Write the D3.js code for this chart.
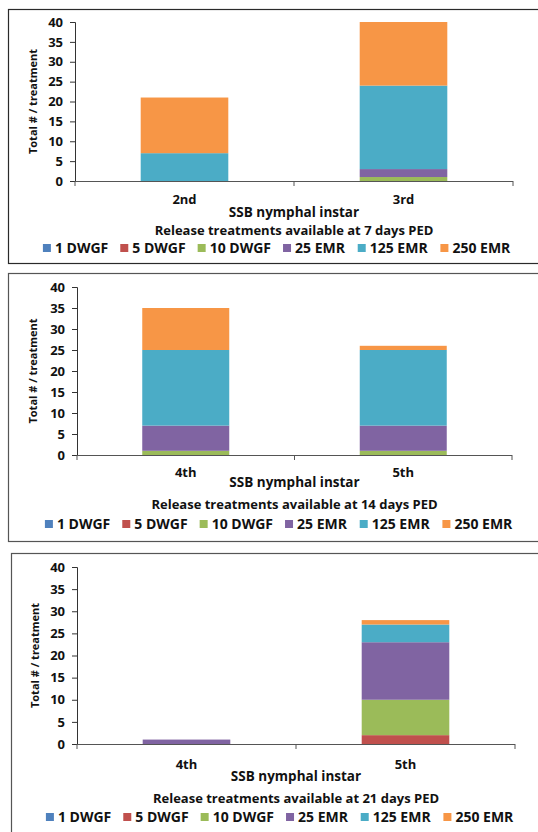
<!doctype html>
<html lang="en">
<head>
<meta charset="UTF-8">
<title>SSB release treatments</title>
<script src="https://d3js.org/d3.v7.min.js"></script>
<style>
  body { margin: 0; background: #fff; }
  text { font-family: "Open Sans", sans-serif; font-weight: bold; fill: #111; }
</style>
</head>
<body>
<div id="chart-area"></div>
<script>
// series (treatments)
const keys = ['1 DWGF', '5 DWGF', '10 DWGF', '25 EMR', '125 EMR', '250 EMR'];
const colors = ['#4F81BD', '#C0504D', '#9BBB59', '#8064A2', '#4BACC6', '#F79646'];
const yTicks = [0, 5, 10, 15, 20, 25, 30, 35, 40];

// 7 days PED
const cats7 = ['2nd', '3rd'];
const vals7 = {
    '1 DWGF':  [0, 0],
    '5 DWGF':  [0, 0],
    '10 DWGF': [0, 1],
    '25 EMR':  [0, 2],
    '125 EMR': [7, 21],
    '250 EMR': [14, 16]
};
// 14 days PED
const cats14 = ['4th', '5th'];
const vals14 = {
    '1 DWGF':  [0, 0],
    '5 DWGF':  [0, 0],
    '10 DWGF': [1, 1],
    '25 EMR':  [6, 6],
    '125 EMR': [18, 18],
    '250 EMR': [10, 1]
};
// 21 days PED
const cats21 = ['4th', '5th'];
const vals21 = {
    '1 DWGF':  [0, 0],
    '5 DWGF':  [0, 2],
    '10 DWGF': [0, 8],
    '25 EMR':  [1, 13],
    '125 EMR': [0, 4],
    '250 EMR': [0, 1]
};
const titles = [
    'Release treatments available at 7 days PED',
    'Release treatments available at 14 days PED',
    'Release treatments available at 21 days PED'
];

const panels = [
    { cats: cats7, vals: vals7, title: titles[0],
      frame: [8, 9, 560, 254], stroke: '#2a2a2a',
      x0: 75, x1: 513, top: 22, bottom: 181,
      tickY: 199, xTitleY: 212, titleY: 230, legendY: 248, legendCx: 277, yLabX: 33 },
    { cats: cats14, vals: vals14, title: titles[1],
      frame: [8, 273, 560, 268], stroke: '#555',
      x0: 77, x1: 512, top: 287, bottom: 455,
      tickY: 472, xTitleY: 482, titleY: 504, legendY: 524, legendCx: 279, yLabX: 33 },
    { cats: cats21, vals: vals21, title: titles[2],
      frame: [11, 553, 560, 300], stroke: '#555',
      x0: 77, x1: 515, top: 567, bottom: 744,
      tickY: 764, xTitleY: 776, titleY: 798, legendY: 817, legendCx: 280, yLabX: 35 }
];

const W = 538, H = 832;
const svg = d3.select('#chart-area')
    .append('svg')
    .attr('width', W)
    .attr('height', H);

const color = d3.scaleOrdinal().domain(keys).range(colors);

panels.forEach(p => {
    const g = svg.append('g');

    g.append('rect')
        .attr('x', p.frame[0] + 0.5)
        .attr('y', p.frame[1] + 0.5)
        .attr('width', p.frame[2])
        .attr('height', p.frame[3])
        .attr('fill', 'none')
        .attr('stroke', p.stroke)
        .attr('stroke-width', 1.2);

    const rows = p.cats.map((c, i) => {
        const r = { cat: c };
        keys.forEach(k => r[k] = p.vals[k][i]);
        return r;
    });
    const stacked = d3.stack().keys(keys)(rows);

    const x = d3.scaleBand()
        .domain(p.cats)
        .range([p.x0, p.x1])
        .paddingInner(0.6)
        .paddingOuter(0.3);

    const y = d3.scaleLinear()
        .domain([0, 40])
        .range([p.bottom, p.top]);

    g.selectAll('g.layer')
        .data(stacked)
        .enter()
        .append('g')
        .attr('fill', d => color(d.key))
        .selectAll('rect')
        .data(d => d)
        .enter()
        .append('rect')
        .attr('x', d => x(d.data.cat))
        .attr('y', d => y(d[1]))
        .attr('width', x.bandwidth())
        .attr('height', d => y(d[0]) - y(d[1]));

    // y axis
    const yAxis = d3.axisLeft(y).tickValues(yTicks).tickSize(5).tickPadding(7);
    const ya = g.append('g')
        .attr('transform', `translate(${p.x0},0)`)
        .call(yAxis);
    ya.selectAll('text').style('font-size', '13px').style('font-family', '"Open Sans", sans-serif').style('font-weight', 'bold').attr('fill', '#111');
    ya.selectAll('line, path').attr('stroke', '#333');

    // x axis line with boundary ticks
    const xb = [p.x0, (p.x0 + p.x1) / 2, p.x1];
    g.append('line')
        .attr('x1', p.x0).attr('x2', p.x1)
        .attr('y1', p.bottom + 0.5).attr('y2', p.bottom + 0.5)
        .attr('stroke', '#555').attr('stroke-width', 1.2);
    g.selectAll('line.xt')
        .data(xb)
        .enter()
        .append('line')
        .attr('class', 'xt')
        .attr('x1', d => d).attr('x2', d => d)
        .attr('y1', p.bottom).attr('y2', p.bottom + 5)
        .attr('stroke', '#555');

    g.selectAll('text.xl')
        .data(p.cats)
        .enter()
        .append('text')
        .attr('class', 'xl')
        .attr('x', d => x(d) + x.bandwidth() / 2)
        .attr('y', p.tickY)
        .attr('dy', '0.35em')
        .attr('text-anchor', 'middle')
        .style('font-size', '13px')
        .text(d => d);

    const cx = (p.x0 + p.x1) / 2;
    g.append('text')
        .attr('x', cx).attr('y', p.xTitleY).attr('dy', '0.35em')
        .attr('text-anchor', 'middle')
        .style('font-size', '13.5px')
        .text('SSB nymphal instar');

    g.append('text')
        .attr('x', cx).attr('y', p.titleY).attr('dy', '0.35em')
        .attr('text-anchor', 'middle')
        .style('font-size', '13px')
        .text(p.title);

    g.append('text')
        .attr('transform', `translate(${p.yLabX},${(p.top + p.bottom) / 2}) rotate(-90)`)
        .attr('dy', '0.35em')
        .attr('text-anchor', 'middle')
        .style('font-size', '11px')
        .text('Total # / treatment');

    // legend
    const lg = g.append('g');
    const items = lg.selectAll('g')
        .data(keys)
        .enter()
        .append('g');
    items.append('rect')
        .attr('width', 8).attr('height', 8)
        .attr('y', -4)
        .attr('fill', d => color(d));
    items.append('text')
        .attr('x', 12)
        .attr('dy', '0.35em')
        .style('font-size', '14px')
        .text(d => d);
    let off = 0;
    const widths = [];
    items.each(function () { widths.push(this.getBBox().width); });
    const gap = 12;
    const total = d3.sum(widths) + gap * (widths.length - 1);
    const startX = p.legendCx - total / 2;
    items.attr('transform', (d, i) => {
        const t = `translate(${startX + off},${p.legendY})`;
        off += widths[i] + gap;
        return t;
    });
});
</script>
</body>
</html>
